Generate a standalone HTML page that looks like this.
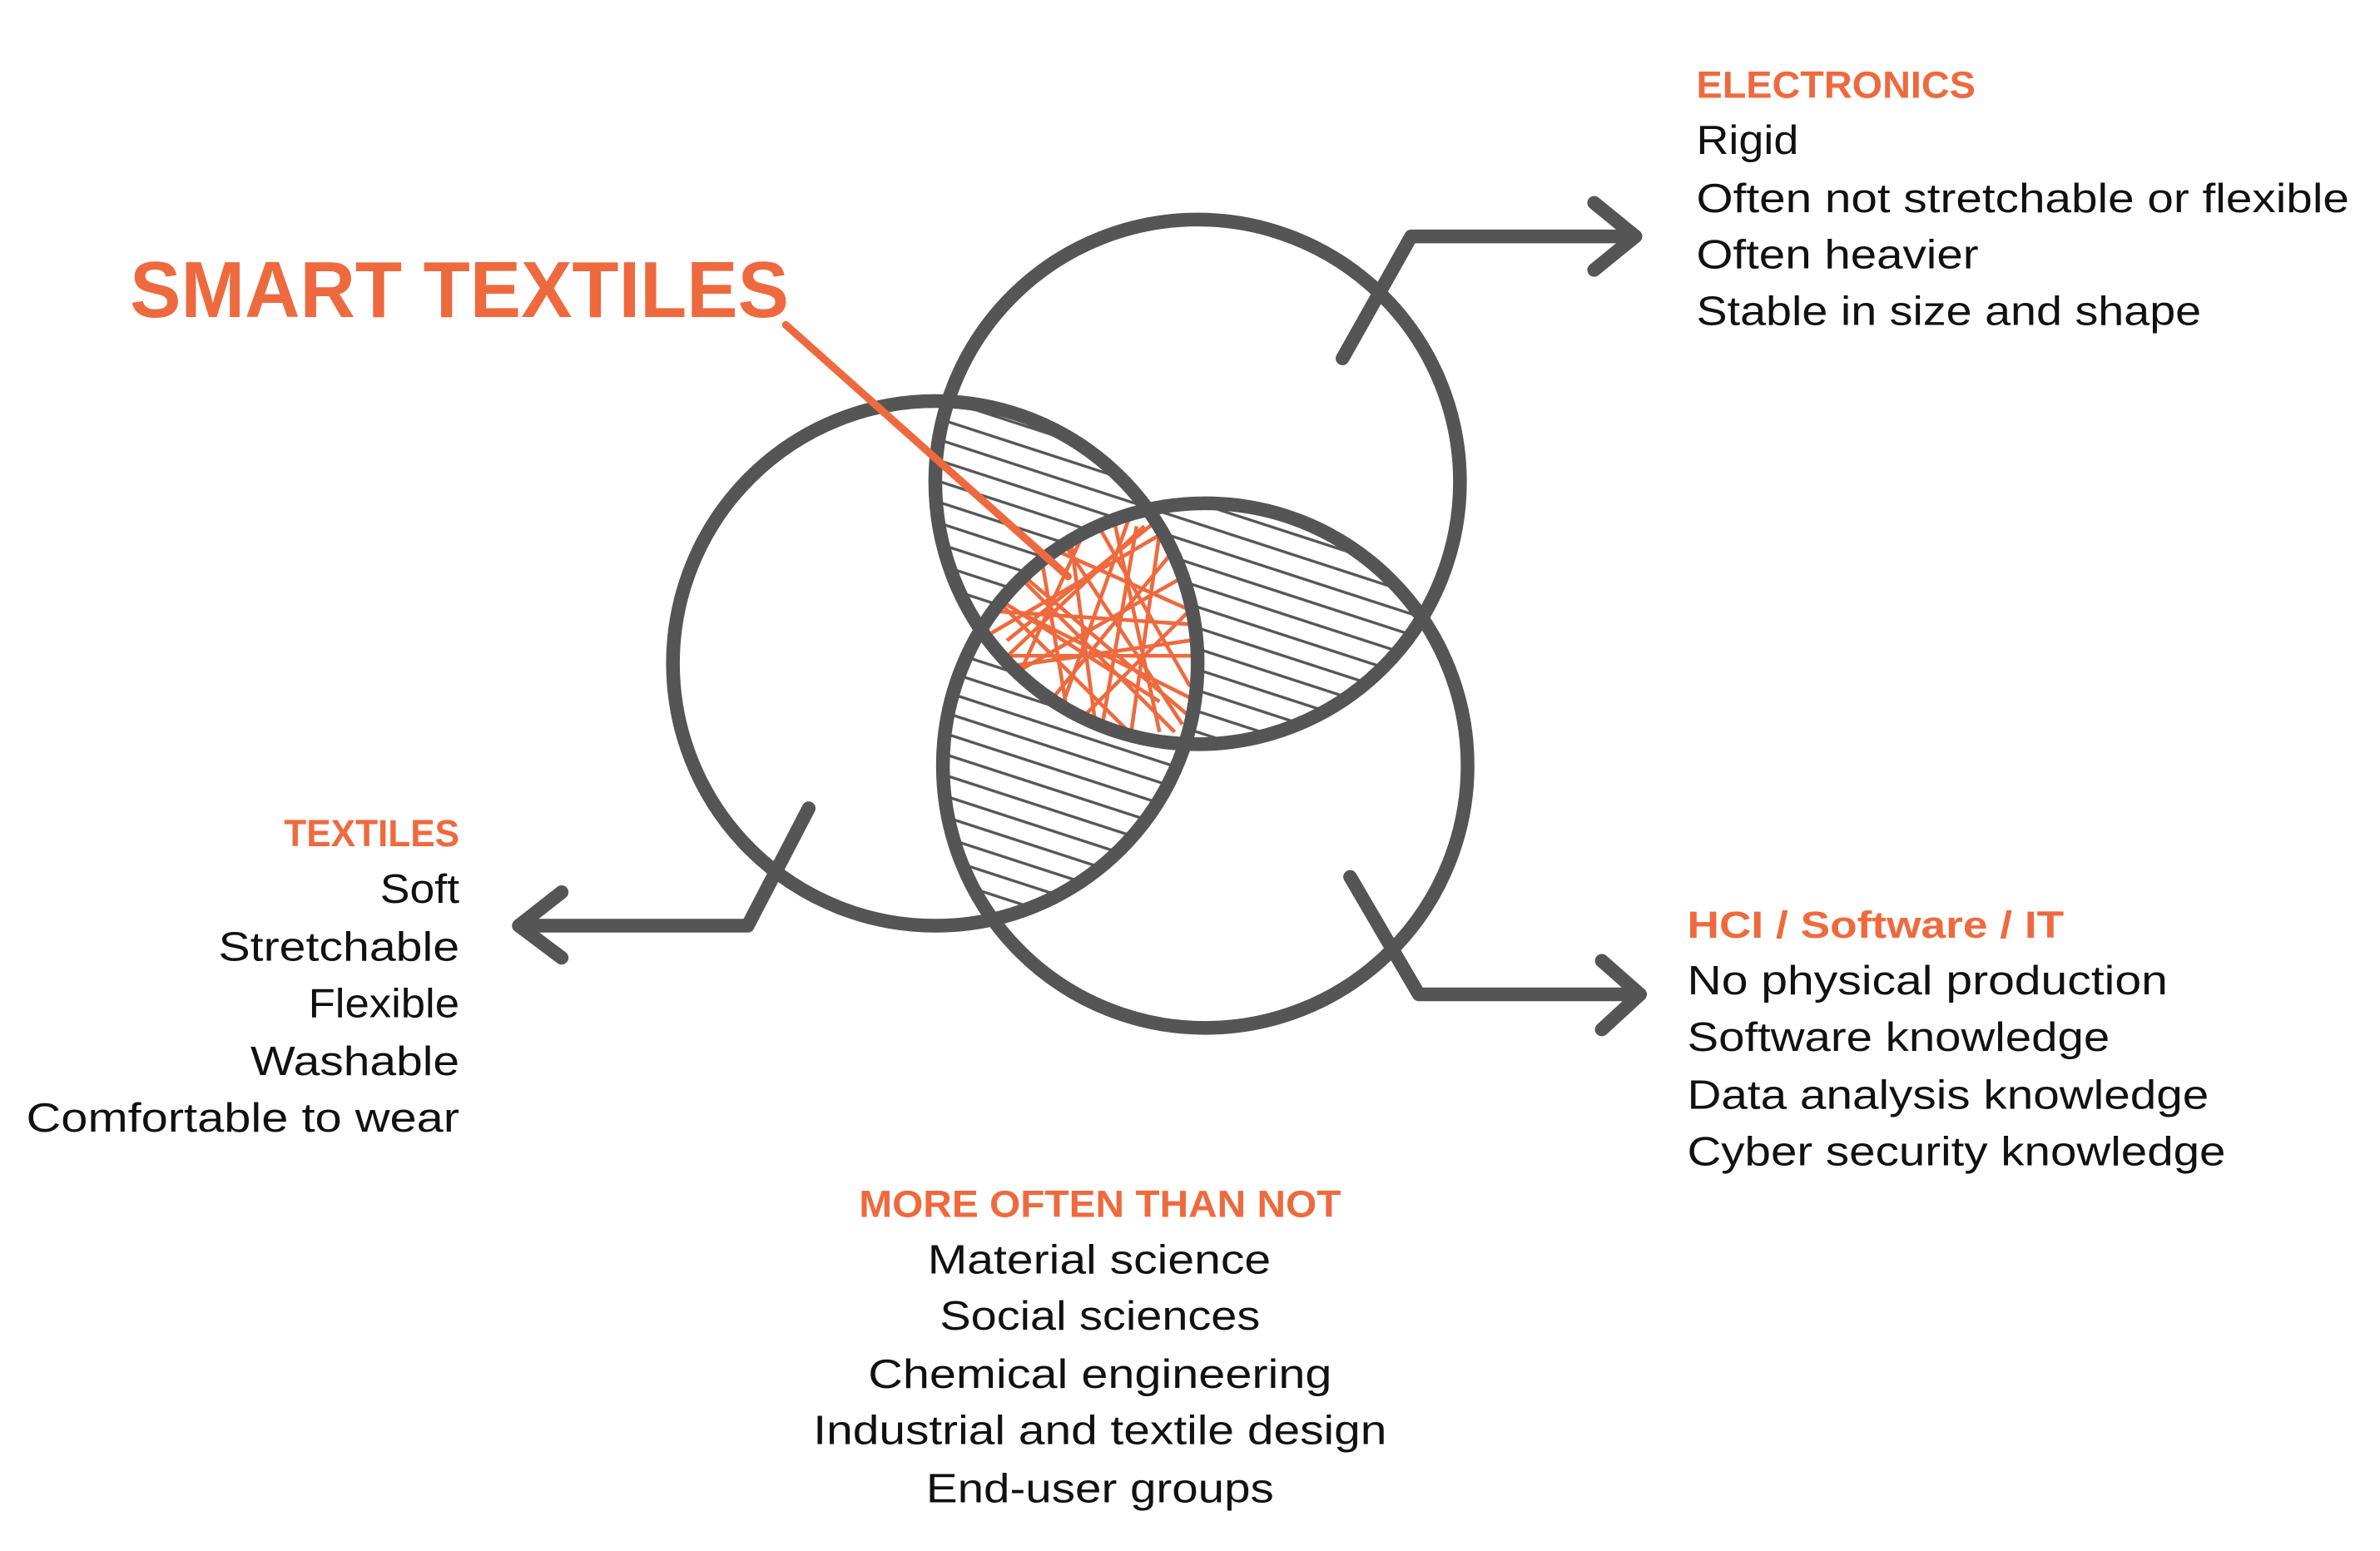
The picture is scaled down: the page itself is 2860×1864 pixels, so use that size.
<!DOCTYPE html>
<html><head><meta charset="utf-8"><style>
html,body{margin:0;padding:0;background:#fff;}
svg{display:block;}
text{font-family:"Liberation Sans",sans-serif;}
.o{fill:#EE6A3E;font-weight:bold;font-size:25px;}
.b{fill:#111;font-size:27px;}
</style></head><body>
<svg width="2860" height="1864" viewBox="0 0 1560 1017" xmlns="http://www.w3.org/2000/svg">
<defs>
<clipPath id="cT"><circle cx="785" cy="316" r="172"/></clipPath>
<clipPath id="cL"><circle cx="613" cy="435" r="172"/></clipPath>
<clipPath id="cB"><circle cx="790" cy="502" r="172"/></clipPath>
<pattern id="h" width="40" height="13" patternUnits="userSpaceOnUse" patternTransform="rotate(18)">
<line x1="0" y1="6" x2="40" y2="6" stroke="#555" stroke-width="1.8"/>
</pattern>
</defs>
<g clip-path="url(#cT)"><g clip-path="url(#cL)"><rect x="0" y="0" width="1560" height="1017" fill="url(#h)"/></g></g>
<g clip-path="url(#cT)"><g clip-path="url(#cB)"><rect x="0" y="0" width="1560" height="1017" fill="url(#h)"/></g></g>
<g clip-path="url(#cL)"><g clip-path="url(#cB)"><rect x="0" y="0" width="1560" height="1017" fill="url(#h)"/></g></g>
<g clip-path="url(#cT)"><g clip-path="url(#cL)"><g clip-path="url(#cB)">
<rect x="0" y="0" width="1560" height="1017" fill="#fff"/>
<g stroke="#EE6A3E" stroke-width="2.5" fill="none">
<line x1="650" y1="360" x2="780" y2="470"/><line x1="660" y1="420" x2="760" y2="340"/>
<line x1="640" y1="400" x2="790" y2="410"/><line x1="700" y1="340" x2="720" y2="490"/>
<line x1="740" y1="340" x2="690" y2="480"/><line x1="650" y1="450" x2="790" y2="370"/>
<line x1="670" y1="380" x2="770" y2="480"/><line x1="720" y1="345" x2="780" y2="450"/>
<line x1="650" y1="390" x2="760" y2="460"/><line x1="680" y1="470" x2="770" y2="360"/>
<line x1="660" y1="430" x2="790" y2="430"/><line x1="710" y1="350" x2="660" y2="460"/>
<line x1="760" y1="350" x2="740" y2="490"/><line x1="690" y1="360" x2="780" y2="400"/>
<line x1="640" y1="380" x2="740" y2="480"/><line x1="700" y1="480" x2="790" y2="390"/>
<line x1="730" y1="340" x2="760" y2="480"/><line x1="650" y1="415" x2="770" y2="345"/>
<line x1="680" y1="350" x2="700" y2="470"/><line x1="750" y1="345" x2="650" y2="440"/>
<line x1="665" y1="400" x2="785" y2="460"/><line x1="720" y1="490" x2="745" y2="345"/>
<line x1="640" y1="440" x2="780" y2="420"/><line x1="690" y1="345" x2="775" y2="475"/>
</g>
</g></g></g>
<g fill="none" stroke="#555" stroke-width="9">
<circle cx="785" cy="316" r="172"/>
<circle cx="613" cy="435" r="172"/>
<circle cx="790" cy="502" r="172"/>
</g>
<g fill="none" stroke="#555" stroke-width="9" stroke-linecap="round" stroke-linejoin="round">
<polyline points="880,235 925,155 1072,155"/>
<polyline points="1045,133 1072,155 1045,177"/>
<polyline points="530,530 490,607 340,607"/>
<polyline points="368,585 340,607 368,628"/>
<polyline points="885,575 930,652 1075,652"/>
<polyline points="1050,630 1075,652 1050,675"/>
</g>
<line x1="515" y1="213" x2="700" y2="378" stroke="#EE6A3E" stroke-width="5" stroke-linecap="round"/>
<text x="85" y="208" fill="#EE6A3E" font-weight="bold" font-size="52" textLength="432" lengthAdjust="spacingAndGlyphs">SMART TEXTILES</text>
<g lengthAdjust="spacingAndGlyphs">
<text class="o" x="1112" y="64" textLength="183" lengthAdjust="spacingAndGlyphs">ELECTRONICS</text>
<text class="b" x="1112" y="101" textLength="67" lengthAdjust="spacingAndGlyphs">Rigid</text>
<text class="b" x="1112" y="139" textLength="428" lengthAdjust="spacingAndGlyphs">Often not stretchable or flexible</text>
<text class="b" x="1112" y="176" textLength="185" lengthAdjust="spacingAndGlyphs">Often heavier</text>
<text class="b" x="1112" y="213" textLength="331" lengthAdjust="spacingAndGlyphs">Stable in size and shape</text>

<text class="o" x="186" y="555" textLength="115" lengthAdjust="spacingAndGlyphs">TEXTILES</text>
<text class="b" x="249" y="592" textLength="52" lengthAdjust="spacingAndGlyphs">Soft</text>
<text class="b" x="143" y="630" textLength="158" lengthAdjust="spacingAndGlyphs">Stretchable</text>
<text class="b" x="202" y="667" textLength="99" lengthAdjust="spacingAndGlyphs">Flexible</text>
<text class="b" x="164" y="705" textLength="137" lengthAdjust="spacingAndGlyphs">Washable</text>
<text class="b" x="17" y="742" textLength="284" lengthAdjust="spacingAndGlyphs">Comfortable to wear</text>

<text class="o" x="1106" y="615" textLength="247" lengthAdjust="spacingAndGlyphs">HCI / Software / IT</text>
<text class="b" x="1106" y="652" textLength="315" lengthAdjust="spacingAndGlyphs">No physical production</text>
<text class="b" x="1106" y="689" textLength="277" lengthAdjust="spacingAndGlyphs">Software knowledge</text>
<text class="b" x="1106" y="727" textLength="342" lengthAdjust="spacingAndGlyphs">Data analysis knowledge</text>
<text class="b" x="1106" y="764" textLength="353" lengthAdjust="spacingAndGlyphs">Cyber security knowledge</text>

<text class="o" x="563" y="798" textLength="316" lengthAdjust="spacingAndGlyphs">MORE OFTEN THAN NOT</text>
<text class="b" x="608" y="835" textLength="225" lengthAdjust="spacingAndGlyphs">Material science</text>
<text class="b" x="616" y="872" textLength="210" lengthAdjust="spacingAndGlyphs">Social sciences</text>
<text class="b" x="569" y="910" textLength="304" lengthAdjust="spacingAndGlyphs">Chemical engineering</text>
<text class="b" x="533" y="947" textLength="376" lengthAdjust="spacingAndGlyphs">Industrial and textile design</text>
<text class="b" x="607" y="985" textLength="228" lengthAdjust="spacingAndGlyphs">End-user groups</text>
</g>
</svg>
</body></html>
